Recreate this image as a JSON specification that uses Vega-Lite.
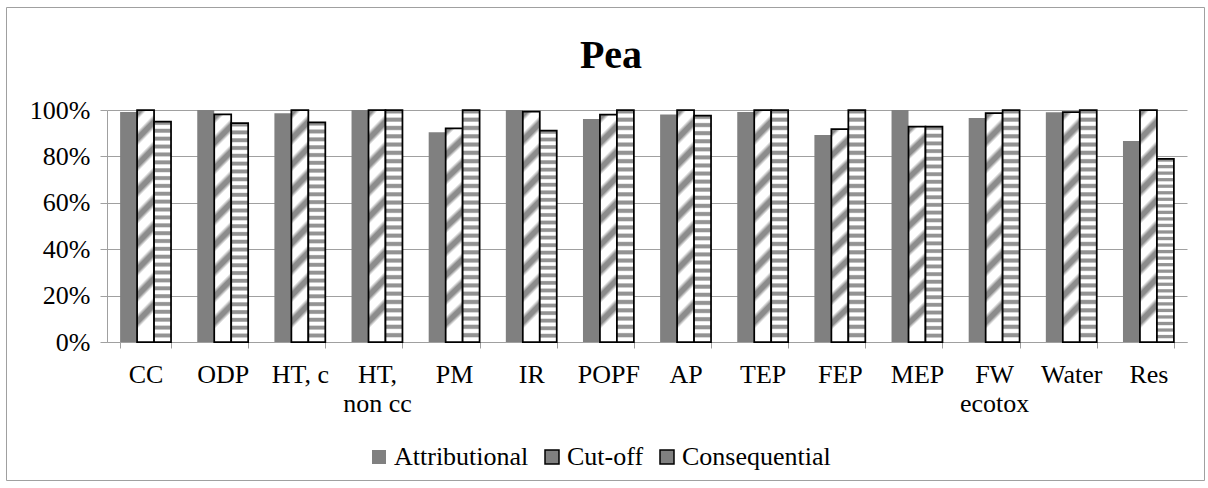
{
  "$schema": "https://vega.github.io/schema/vega-lite/v6.json",
  "width": 1198,
  "height": 473,
  "autosize": {"type": "none"},
  "padding": {"left": 6, "top": 7, "right": 4, "bottom": 8},
  "background": "white",
  "config": {
    "view": {"stroke": "#a0a0a0", "strokeWidth": 1},
    "font": "Liberation Serif"
  },
  "title": {
    "text": "Pea",
    "font": "Liberation Serif",
    "fontSize": 40,
    "fontWeight": "bold",
    "color": "black",
    "anchor": "middle",
    "frame": "group",
    "baseline": "alphabetic",
    "offset": -101,
    "dx": 6
  },
  "data": {
    "values": [
      {"category": "CC", "method": "Attributional", "share": 0.991},
      {"category": "CC", "method": "Cut-off", "share": 1.0},
      {"category": "CC", "method": "Consequential", "share": 0.950},
      {"category": "ODP", "method": "Attributional", "share": 1.0},
      {"category": "ODP", "method": "Cut-off", "share": 0.981},
      {"category": "ODP", "method": "Consequential", "share": 0.943},
      {"category": "HT, c", "method": "Attributional", "share": 0.986},
      {"category": "HT, c", "method": "Cut-off", "share": 1.0},
      {"category": "HT, c", "method": "Consequential", "share": 0.947},
      {"category": "HT, non cc", "method": "Attributional", "share": 1.0},
      {"category": "HT, non cc", "method": "Cut-off", "share": 1.0},
      {"category": "HT, non cc", "method": "Consequential", "share": 1.0},
      {"category": "PM", "method": "Attributional", "share": 0.904},
      {"category": "PM", "method": "Cut-off", "share": 0.921},
      {"category": "PM", "method": "Consequential", "share": 1.0},
      {"category": "IR", "method": "Attributional", "share": 1.0},
      {"category": "IR", "method": "Cut-off", "share": 0.993},
      {"category": "IR", "method": "Consequential", "share": 0.911},
      {"category": "POPF", "method": "Attributional", "share": 0.961},
      {"category": "POPF", "method": "Cut-off", "share": 0.980},
      {"category": "POPF", "method": "Consequential", "share": 1.0},
      {"category": "AP", "method": "Attributional", "share": 0.981},
      {"category": "AP", "method": "Cut-off", "share": 1.0},
      {"category": "AP", "method": "Consequential", "share": 0.976},
      {"category": "TEP", "method": "Attributional", "share": 0.991},
      {"category": "TEP", "method": "Cut-off", "share": 1.0},
      {"category": "TEP", "method": "Consequential", "share": 1.0},
      {"category": "FEP", "method": "Attributional", "share": 0.892},
      {"category": "FEP", "method": "Cut-off", "share": 0.918},
      {"category": "FEP", "method": "Consequential", "share": 1.0},
      {"category": "MEP", "method": "Attributional", "share": 1.0},
      {"category": "MEP", "method": "Cut-off", "share": 0.928},
      {"category": "MEP", "method": "Consequential", "share": 0.928},
      {"category": "FW ecotox", "method": "Attributional", "share": 0.966},
      {"category": "FW ecotox", "method": "Cut-off", "share": 0.986},
      {"category": "FW ecotox", "method": "Consequential", "share": 1.0},
      {"category": "Water", "method": "Attributional", "share": 0.990},
      {"category": "Water", "method": "Cut-off", "share": 0.991},
      {"category": "Water", "method": "Consequential", "share": 1.0},
      {"category": "Res", "method": "Attributional", "share": 0.866},
      {"category": "Res", "method": "Cut-off", "share": 1.0},
      {"category": "Res", "method": "Consequential", "share": 0.789}
    ]
  },
  "encoding": {
    "x": {
      "field": "category",
      "type": "nominal",
      "sort": null,
      "title": null,
      "scale": {"range": [101, 1181], "paddingInner": 0.34, "paddingOuter": 0.17},
      "axis": {
        "offset": -138,
        "labelAngle": 0,
        "labelFont": "Liberation Serif",
        "labelFontSize": 26,
        "labelColor": "black",
        "labelPadding": 13,
        "labelLineHeight": 29.5,
        "labelOverlap": false,
        "labelBound": false,
        "labelExpr": "datum.label == 'HT, non cc' ? ['HT,', 'non cc'] : datum.label == 'FW ecotox' ? ['FW', 'ecotox'] : datum.label",
        "domainColor": "#a0a0a0",
        "tickColor": "#a0a0a0",
        "tickSize": 6,
        "tickBand": "extent",
        "grid": false
      }
    },
    "xOffset": {
      "field": "method",
      "type": "nominal",
      "scale": {"domain": ["Attributional", "Cut-off", "Consequential"], "paddingInner": 0, "paddingOuter": 0}
    },
    "y": {
      "field": "share",
      "type": "quantitative",
      "title": null,
      "scale": {"domain": [0, 1], "range": [335, 103], "nice": false, "zero": true},
      "axis": {
        "offset": -101,
        "values": [0, 0.2, 0.4, 0.6, 0.8, 1],
        "format": ".0%",
        "labelFont": "Liberation Serif",
        "labelFontSize": 26,
        "labelColor": "black",
        "labelPadding": 10,
        "domainColor": "#a0a0a0",
        "tickColor": "#a0a0a0",
        "tickSize": 7,
        "grid": true,
        "gridColor": "#a0a0a0",
        "gridWidth": 1
      }
    },
    "stroke": {
      "field": "method",
      "type": "nominal",
      "scale": {
        "domain": ["Attributional", "Cut-off", "Consequential"],
        "range": ["transparent", "black", "black"]
      },
      "legend": {
        "title": null,
        "orient": "none",
        "legendX": 360,
        "legendY": 437,
        "direction": "horizontal",
        "labelFont": "Liberation Serif",
        "labelFontSize": 26,
        "labelColor": "black",
        "labelOffset": 2,
        "columnPadding": 10,
        "symbolType": "square",
        "symbolSize": 196,
        "symbolStrokeWidth": 1.5,
        "encode": {
          "symbols": {
            "fill": {"value": {"expr": "datum.value === 'Attributional' ? '#808080' : datum.value === 'Consequential' ? {gradient: 'linear', x1: 0, y1: 0, x2: 0, y2: 1, stops: [{offset: 0, color: '#ffffff'}, {offset: 0.3, color: '#ffffff'}, {offset: 0.4, color: '#939393'}, {offset: 0.6, color: '#939393'}, {offset: 0.7, color: '#ffffff'}, {offset: 1, color: '#ffffff'}]} : {gradient: 'linear', x1: 0, y1: 0, x2: 1, y2: 1, stops: [{offset: 0, color: '#ffffff'}, {offset: 0.35, color: '#ffffff'}, {offset: 0.5, color: '#a8a8a8'}, {offset: 0.65, color: '#ffffff'}, {offset: 1, color: '#ffffff'}]}"}},
            "fillOpacity": {"value": 1}
          }
        }
      }
    }
  },
  "layer": [
    {
      "transform": [{"filter": "datum.method === 'Attributional'"}],
      "mark": {"type": "bar", "fill": "#808080", "strokeWidth": 1.75}
    },
    {
      "transform": [{"filter": "datum.method === 'Cut-off'"}],
      "mark": {
        "type": "bar",
        "strokeWidth": 1.75,
        "fill": {
          "gradient": "linear",
          "x1": 0, "y1": 0, "x2": 0.075, "y2": 1,
          "stops": [
            {"offset": 0, "color": "#8c8c8c"}, {"offset": 0.025, "color": "#8c8c8c"}, {"offset": 0.045, "color": "#ffffff"}, {"offset": 0.09, "color": "#ffffff"},
            {"offset": 0.112, "color": "#8c8c8c"}, {"offset": 0.137, "color": "#8c8c8c"}, {"offset": 0.157, "color": "#ffffff"}, {"offset": 0.202, "color": "#ffffff"},
            {"offset": 0.224, "color": "#8c8c8c"}, {"offset": 0.249, "color": "#8c8c8c"}, {"offset": 0.269, "color": "#ffffff"}, {"offset": 0.314, "color": "#ffffff"},
            {"offset": 0.336, "color": "#8c8c8c"}, {"offset": 0.361, "color": "#8c8c8c"}, {"offset": 0.381, "color": "#ffffff"}, {"offset": 0.426, "color": "#ffffff"},
            {"offset": 0.448, "color": "#8c8c8c"}, {"offset": 0.473, "color": "#8c8c8c"}, {"offset": 0.493, "color": "#ffffff"}, {"offset": 0.538, "color": "#ffffff"},
            {"offset": 0.56, "color": "#8c8c8c"}, {"offset": 0.585, "color": "#8c8c8c"}, {"offset": 0.605, "color": "#ffffff"}, {"offset": 0.65, "color": "#ffffff"},
            {"offset": 0.672, "color": "#8c8c8c"}, {"offset": 0.697, "color": "#8c8c8c"}, {"offset": 0.717, "color": "#ffffff"}, {"offset": 0.762, "color": "#ffffff"},
            {"offset": 0.784, "color": "#8c8c8c"}, {"offset": 0.809, "color": "#8c8c8c"}, {"offset": 0.829, "color": "#ffffff"}, {"offset": 0.874, "color": "#ffffff"},
            {"offset": 0.896, "color": "#8c8c8c"}, {"offset": 0.921, "color": "#8c8c8c"}, {"offset": 0.941, "color": "#ffffff"}, {"offset": 1, "color": "#ffffff"}
          ]
        }
      }
    },
    {
      "transform": [{"filter": "datum.method === 'Consequential'"}],
      "mark": {
        "type": "bar",
        "strokeWidth": 1.75,
        "fill": {
          "gradient": "linear",
          "x1": 0, "y1": 0, "x2": 0, "y2": 1,
          "stops": [
            {"offset": 0, "color": "#939393"}, {"offset": 0.012, "color": "#939393"}, {"offset": 0.018, "color": "#ffffff"}, {"offset": 0.03, "color": "#ffffff"},
            {"offset": 0.0357, "color": "#939393"}, {"offset": 0.0477, "color": "#939393"}, {"offset": 0.0537, "color": "#ffffff"}, {"offset": 0.0657, "color": "#ffffff"},
            {"offset": 0.0714, "color": "#939393"}, {"offset": 0.0834, "color": "#939393"}, {"offset": 0.0894, "color": "#ffffff"}, {"offset": 0.1014, "color": "#ffffff"},
            {"offset": 0.1071, "color": "#939393"}, {"offset": 0.1191, "color": "#939393"}, {"offset": 0.1251, "color": "#ffffff"}, {"offset": 0.1371, "color": "#ffffff"},
            {"offset": 0.1429, "color": "#939393"}, {"offset": 0.1549, "color": "#939393"}, {"offset": 0.1609, "color": "#ffffff"}, {"offset": 0.1729, "color": "#ffffff"},
            {"offset": 0.1786, "color": "#939393"}, {"offset": 0.1906, "color": "#939393"}, {"offset": 0.1966, "color": "#ffffff"}, {"offset": 0.2086, "color": "#ffffff"},
            {"offset": 0.2143, "color": "#939393"}, {"offset": 0.2263, "color": "#939393"}, {"offset": 0.2323, "color": "#ffffff"}, {"offset": 0.2443, "color": "#ffffff"},
            {"offset": 0.25, "color": "#939393"}, {"offset": 0.262, "color": "#939393"}, {"offset": 0.268, "color": "#ffffff"}, {"offset": 0.28, "color": "#ffffff"},
            {"offset": 0.2857, "color": "#939393"}, {"offset": 0.2977, "color": "#939393"}, {"offset": 0.3037, "color": "#ffffff"}, {"offset": 0.3157, "color": "#ffffff"},
            {"offset": 0.3214, "color": "#939393"}, {"offset": 0.3334, "color": "#939393"}, {"offset": 0.3394, "color": "#ffffff"}, {"offset": 0.3514, "color": "#ffffff"},
            {"offset": 0.3571, "color": "#939393"}, {"offset": 0.3691, "color": "#939393"}, {"offset": 0.3751, "color": "#ffffff"}, {"offset": 0.3871, "color": "#ffffff"},
            {"offset": 0.3929, "color": "#939393"}, {"offset": 0.4049, "color": "#939393"}, {"offset": 0.4109, "color": "#ffffff"}, {"offset": 0.4229, "color": "#ffffff"},
            {"offset": 0.4286, "color": "#939393"}, {"offset": 0.4406, "color": "#939393"}, {"offset": 0.4466, "color": "#ffffff"}, {"offset": 0.4586, "color": "#ffffff"},
            {"offset": 0.4643, "color": "#939393"}, {"offset": 0.4763, "color": "#939393"}, {"offset": 0.4823, "color": "#ffffff"}, {"offset": 0.4943, "color": "#ffffff"},
            {"offset": 0.5, "color": "#939393"}, {"offset": 0.512, "color": "#939393"}, {"offset": 0.518, "color": "#ffffff"}, {"offset": 0.53, "color": "#ffffff"},
            {"offset": 0.5357, "color": "#939393"}, {"offset": 0.5477, "color": "#939393"}, {"offset": 0.5537, "color": "#ffffff"}, {"offset": 0.5657, "color": "#ffffff"},
            {"offset": 0.5714, "color": "#939393"}, {"offset": 0.5834, "color": "#939393"}, {"offset": 0.5894, "color": "#ffffff"}, {"offset": 0.6014, "color": "#ffffff"},
            {"offset": 0.6071, "color": "#939393"}, {"offset": 0.6191, "color": "#939393"}, {"offset": 0.6251, "color": "#ffffff"}, {"offset": 0.6371, "color": "#ffffff"},
            {"offset": 0.6429, "color": "#939393"}, {"offset": 0.6549, "color": "#939393"}, {"offset": 0.6609, "color": "#ffffff"}, {"offset": 0.6729, "color": "#ffffff"},
            {"offset": 0.6786, "color": "#939393"}, {"offset": 0.6906, "color": "#939393"}, {"offset": 0.6966, "color": "#ffffff"}, {"offset": 0.7086, "color": "#ffffff"},
            {"offset": 0.7143, "color": "#939393"}, {"offset": 0.7263, "color": "#939393"}, {"offset": 0.7323, "color": "#ffffff"}, {"offset": 0.7443, "color": "#ffffff"},
            {"offset": 0.75, "color": "#939393"}, {"offset": 0.762, "color": "#939393"}, {"offset": 0.768, "color": "#ffffff"}, {"offset": 0.78, "color": "#ffffff"},
            {"offset": 0.7857, "color": "#939393"}, {"offset": 0.7977, "color": "#939393"}, {"offset": 0.8037, "color": "#ffffff"}, {"offset": 0.8157, "color": "#ffffff"},
            {"offset": 0.8214, "color": "#939393"}, {"offset": 0.8334, "color": "#939393"}, {"offset": 0.8394, "color": "#ffffff"}, {"offset": 0.8514, "color": "#ffffff"},
            {"offset": 0.8571, "color": "#939393"}, {"offset": 0.8691, "color": "#939393"}, {"offset": 0.8751, "color": "#ffffff"}, {"offset": 0.8871, "color": "#ffffff"},
            {"offset": 0.8929, "color": "#939393"}, {"offset": 0.9049, "color": "#939393"}, {"offset": 0.9109, "color": "#ffffff"}, {"offset": 0.9229, "color": "#ffffff"},
            {"offset": 0.9286, "color": "#939393"}, {"offset": 0.9406, "color": "#939393"}, {"offset": 0.9466, "color": "#ffffff"}, {"offset": 0.9586, "color": "#ffffff"},
            {"offset": 0.9643, "color": "#939393"}, {"offset": 0.9763, "color": "#939393"}, {"offset": 0.9823, "color": "#ffffff"}, {"offset": 1, "color": "#ffffff"}
          ]
        }
      }
    }
  ]
}
